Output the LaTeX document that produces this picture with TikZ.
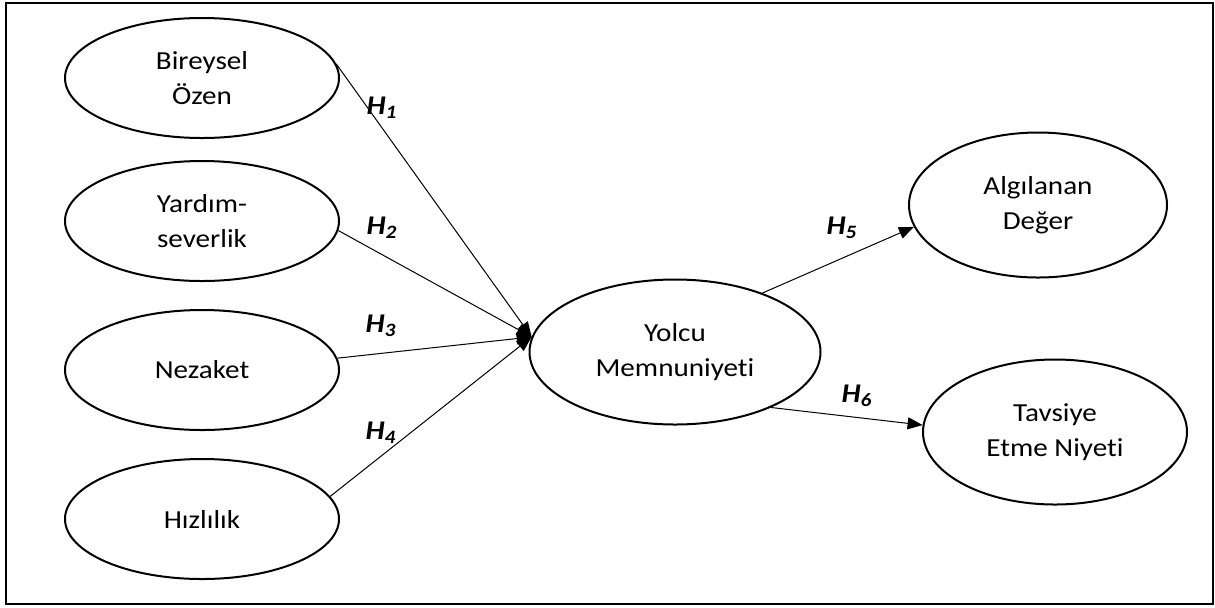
\documentclass[tikz,border=0pt]{standalone}
\usepackage{fontspec}
\setmainfont{Carlito}[FakeStretch=1.12, Ligatures=NoCommon]
\usetikzlibrary{arrows.meta, positioning, shapes.geometric}

\begin{document}
\begin{tikzpicture}[
    x=0.5pt, y=-0.5pt,
    construct/.style={ellipse, draw=black, line width=1pt, inner sep=0pt, minimum width=137pt, minimum height=60pt, align=center, font=\fontsize{13}{17.5}\selectfont},
    outcome/.style={construct, minimum width=130pt, minimum height=72.5pt},
    hyp/.style={inner sep=0pt, font=\fontsize{13.5}{13.5}\selectfont\bfseries\itshape},
    line/.style={draw=black, line width=0.5pt, -{Triangle[length=7.5pt, width=6pt]}}
]
    \useasboundingbox (0,0) rectangle (1215,607);
    \draw[line width=1pt] (6,3) rectangle (1213,604);

    \node[construct] (ozen) at (202,78) {Bireysel\\Özen};
    \node[construct] (yardim) at (202,221) {Yardım-\\severlik};
    \node[construct] (nezaket) at (202,370) {Nezaket};
    \node[construct] (hiz) at (202,519) {Hızlılık};
    \node[outcome, minimum width=145.5pt] (memnun) at (675,352) {Yolcu\\Memnuniyeti};
    \node[outcome, minimum width=129pt] (deger) at (1038,205) {Algılanan\\Değer};
    \node[outcome, minimum width=132pt] (tavsiye) at (1055,432) {Tavsiye\\Etme Niyeti};

    % Hypothesis labels
    \node[hyp] (h1) at (382,108) {H\textsubscript{1}};
    \node[hyp] (h2) at (382,228) {H\textsubscript{2}};
    \node[hyp] (h3) at (381,326) {H\textsubscript{3}};
    \node[hyp] (h4) at (381,433) {H\textsubscript{4}};
    \node[hyp] (h5) at (842,228) {H\textsubscript{5}};
    \node[hyp] (h6) at (857,396) {H\textsubscript{6}};

    % Connectors
    \draw[line] (ozen.6) -- (memnun.174);
    \draw[line] (yardim.-4) -- (memnun.174);
    \draw[line] (nezaket.5) -- (memnun.174);
    \draw[line] (hiz.10) -- (memnun.174);
    \draw[line] (memnun.34) -- (deger.190);
    \draw[line] (memnun.-30) -- (tavsiye.177);
\end{tikzpicture}
\end{document}
